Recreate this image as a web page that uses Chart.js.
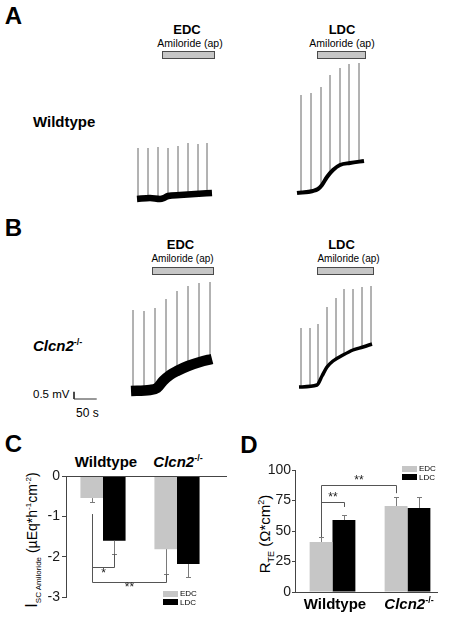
<!DOCTYPE html>
<html><head><meta charset="utf-8">
<script src="https://cdn.jsdelivr.net/npm/chart.js@4.4.1/dist/chart.umd.min.js"></script>
<style>
html,body{margin:0;padding:0;background:#fff;}
#fig{position:relative;width:450px;height:623px;overflow:hidden;font-family:"Liberation Sans",Arial,sans-serif;color:#000;}
canvas{position:absolute;}
.t{position:absolute;white-space:nowrap;line-height:1;}
.c{transform:translate(-50%,-50%);}
.l{transform:translateY(-50%);}
.pl{font-size:24px;font-weight:bold;}
.hd{font-size:13px;font-weight:bold;}
.am{font-size:10.5px;}
.gt{font-size:15px;font-weight:bold;}
.sp{font-size:9px;position:relative;top:-6px;font-style:normal;font-weight:bold;}
.amb{position:absolute;background:#c6c6c6;border:1px solid #4a4a4a;box-sizing:border-box;}
.lg{position:absolute;}
.lt{font-size:8px;}
</style></head><body>
<div id="fig">
  <!-- Panel A -->
  <div class="t c pl" style="left:13.5px;top:15.5px">A</div>
  <div class="t c hd" style="left:187px;top:28.5px">EDC</div>
  <div class="t c am" style="left:190px;top:43px">Amiloride (ap)</div>
  <div class="amb" style="left:162px;top:51px;width:53px;height:8px"></div>
  <div class="t c hd" style="left:342px;top:28.5px">LDC</div>
  <div class="t c am" style="left:342px;top:43px">Amiloride (ap)</div>
  <div class="amb" style="left:317px;top:51px;width:49px;height:8px"></div>
  <div class="t l gt" style="left:33px;top:121px">Wildtype</div>
  <canvas id="aEdc"></canvas>
  <canvas id="aLdc"></canvas>

  <!-- Panel B -->
  <div class="t c pl" style="left:13.5px;top:227.5px">B</div>
  <div class="t c hd" style="left:180.5px;top:244px">EDC</div>
  <div class="t c am" style="left:182.5px;top:259px;font-size:10px">Amiloride (ap)</div>
  <div class="amb" style="left:152px;top:267px;width:62px;height:8px"></div>
  <div class="t c hd" style="left:341.5px;top:244px">LDC</div>
  <div class="t c am" style="left:348.5px;top:259px;font-size:10px">Amiloride (ap)</div>
  <div class="amb" style="left:317px;top:267px;width:57px;height:8px"></div>
  <div class="t l gt" style="left:33px;top:345px"><i>Clcn2</i><span class="sp">-/-</span></div>
  <div class="t l" style="left:33px;top:395px;font-size:11.5px">0.5 mV</div>
  <div class="t l" style="left:76px;top:413px;font-size:12px">50 s</div>
  <canvas id="bEdc"></canvas>
  <canvas id="bLdc"></canvas>

  <!-- Panel C -->
  <div class="t c pl" style="left:13.5px;top:443.5px">C</div>
  <div class="t c gt" style="left:106px;top:461px">Wildtype</div>
  <div class="t c gt" style="left:178px;top:461px"><i>Clcn2</i><span class="sp">-/-</span></div>
  <div class="t" style="left:32px;top:540px;font-size:14px;transform:translate(-50%,-50%) rotate(-90deg)"><span style="font-size:16px">I</span><span style="font-size:8px;position:relative;top:4px">SC Amiloride</span> (µEq*h<span style="font-size:8px;position:relative;top:-6px">-1</span>cm<span style="font-size:8px;position:relative;top:-6px">-2</span>)</div>
  <canvas id="isc"></canvas>
  <div class="lg" style="left:163px;top:591px;width:15px;height:6px;background:#c6c6c6"></div>
  <div class="t l lt" style="left:180px;top:594px">EDC</div>
  <div class="lg" style="left:163px;top:599px;width:15px;height:6px;background:#000"></div>
  <div class="t l lt" style="left:180px;top:602.5px">LDC</div>

  <!-- Panel D -->
  <div class="t c pl" style="left:249px;top:445px">D</div>
  <div class="t" style="left:264px;top:534px;font-size:15px;transform:translate(-50%,-50%) rotate(-90deg)">R<span style="font-size:9px;position:relative;top:4px">TE</span> (Ω*cm<span style="font-size:9px;position:relative;top:-6px">2</span>)</div>
  <canvas id="rte"></canvas>
  <div class="lg" style="left:402px;top:466px;width:15px;height:6px;background:#c6c6c6"></div>
  <div class="t l lt" style="left:419px;top:469px">EDC</div>
  <div class="lg" style="left:402px;top:474px;width:15px;height:6px;background:#000"></div>
  <div class="t l lt" style="left:419px;top:477.5px">LDC</div>
  <div class="t c gt" style="left:335px;top:603px">Wildtype</div>
  <div class="t c gt" style="left:409px;top:603px"><i>Clcn2</i><span class="sp">-/-</span></div>
</div>
<script>
// ---------- Data: recordings (time in s, transepithelial voltage in mV) ----------
const aEdcTime = [0, 28.6, 50.6, 59.4, 68.2, 94.6, 127.6, 165];
const aEdcVolt = [0, 0.07, 0, 0.07, 0.21, 0.28, 0.35, 0.42];
const aEdcSpikeTime = [2.2, 24.2, 46.2, 68.2, 90.2, 112.2, 134.2, 154];
const aEdcSpikeBase = [0, 0.07, 0, 0.21, 0.28, 0.28, 0.35, 0.42];
const aEdcSpikeTop = [3.57, 3.57, 3.64, 3.57, 3.71, 3.92, 3.85, 3.92];

const aLdcTime = [0, 35.2, 46.2, 55, 66, 79.2, 94.6, 116.6, 147.4];
const aLdcVolt = [0, 0.14, 0.28, 0.56, 1.12, 1.61, 1.96, 2.1, 2.24];
const aLdcSpikeTime = [8.8, 30.8, 52.8, 72.6, 94.6, 114.4, 136.4];
const aLdcSpikeBase = [0, 0.14, 0.49, 1.4, 1.96, 2.1, 2.17];
const aLdcSpikeTop = [6.86, 7.0, 7.42, 8.26, 8.75, 9.03, 9.1];

const bEdcTime = [0, 41.8, 57.2, 70.4, 85.8, 101.2, 125.4, 151.8, 178.2];
const bEdcVolt = [0, 0.07, 0.21, 0.7, 1.12, 1.4, 1.75, 2.03, 2.24];
const bEdcSpikeTime = [4.4, 28.6, 52.8, 77, 101.2, 125.4, 149.6, 173.8];
const bEdcSpikeBase = [0, 0.07, 0.14, 0.84, 1.4, 1.75, 2.0, 2.2];
const bEdcSpikeTop = [5.67, 5.6, 5.81, 6.44, 7.0, 7.35, 7.56, 7.63];

const bLdcTime = [0, 39.6, 50.6, 61.6, 74.8, 96.8, 118.8, 140.8, 160.6];
const bLdcVolt = [0, 0.14, 0.77, 1.4, 1.82, 2.24, 2.59, 2.8, 3.01];
const bLdcSpikeTime = [4.4, 24.2, 41.8, 61.6, 81.4, 99, 118.8, 138.6, 158.4];
const bLdcSpikeBase = [0, 0.07, 0.28, 1.4, 1.96, 2.31, 2.59, 2.8, 3.01];
const bLdcSpikeTop = [4.13, 4.13, 4.41, 5.6, 6.23, 6.86, 6.86, 7.0, 7.07];

const scaleBarVolt = 0.5;   // mV
const scaleBarTime = 50;    // s

// ---------- Data: bar charts ----------
const groups = ['Wildtype', 'Clcn2-/-'];
const iscEdc = [-0.54, -1.81];
const iscEdcSem = [0.1, 0.63];
const iscLdc = [-1.6, -2.18];
const iscLdcSem = [0.33, 0.32];
const iscTicks = [0, -1, -2, -3];

const rteEdc = [41, 70.5];
const rteEdcSem = [4.1, 7.4];
const rteLdc = [59, 68.9];
const rteLdcSem = [4.1, 9];
const rteTicks = [0, 25, 50, 75, 100];

// significance brackets: a/b = [dataset, group]
const iscSig = [
  {a:[0,0], b:[1,0], aFrom:-0.94, bFrom:-1.93, level:-2.26, label:'*',  labelAt:-2.42},
  {a:[0,0], b:[0,1], aFrom:-0.94, bFrom:-2.44, level:-2.63, label:'**', labelAt:-2.78}
];
const rteSig = [
  {a:[0,0], b:[0,1], aFrom:45.1, bFrom:81,   level:87.7, label:'**', labelAt:91.0},
  {a:[0,0], b:[1,0], aFrom:45.1, bFrom:69.7, level:73.8, label:'**', labelAt:77.0}
];

// ---------- Layout ----------
const FONT = '"Liberation Sans", Arial, sans-serif';
const SEC_PER_PX = 2.2, MV_PER_PX = 0.07;
const GRAY = '#c6c6c6';

function placeCanvas(id, box) {
  const cv = document.getElementById(id);
  cv.width = box.w; cv.height = box.h;
  cv.style.left = box.left + 'px'; cv.style.top = box.top + 'px';
  cv.style.width = box.w + 'px'; cv.style.height = box.h + 'px';
  return cv;
}

function traceChart(id, box, origin, time, volt, spT, spB, spTop, lineW, extraSets) {
  const cv = placeCanvas(id, box);
  const spikes = [];
  spT.forEach((t, i) => { spikes.push({x:t, y:spB[i]}, {x:t, y:spTop[i]}, {x:t, y:null}); });
  const trace = time.map((t, i) => ({x:t, y:volt[i]}));
  const datasets = [
    {data: spikes, borderColor:'#666', borderWidth:1, pointRadius:0, tension:0, spanGaps:false, order:2},
    {data: trace, borderColor:'#000', borderWidth:lineW, pointRadius:0, cubicInterpolationMode:'monotone',
     borderJoinStyle:'round', borderCapStyle:'butt', order:1}
  ].concat(extraSets || []);
  return new Chart(cv, {
    type:'line',
    data:{datasets},
    options:{
      responsive:false, animation:false, devicePixelRatio:1, events:[],
      layout:{padding:0},
      plugins:{legend:{display:false}, tooltip:{enabled:false}},
      scales:{
        x:{type:'linear', display:false,
           min:(box.left - origin.x) * SEC_PER_PX, max:(box.left + box.w - origin.x) * SEC_PER_PX},
        y:{type:'linear', display:false,
           min:(origin.y - box.top - box.h) * MV_PER_PX, max:(origin.y - box.top) * MV_PER_PX}
      }
    }
  });
}

traceChart('aEdc', {left:125, top:130, w:95, h:80}, {x:137, y:199},
  aEdcTime, aEdcVolt, aEdcSpikeTime, aEdcSpikeBase, aEdcSpikeTop, 6.5);
traceChart('aLdc', {left:285, top:55, w:90, h:148}, {x:297, y:193},
  aLdcTime, aLdcVolt, aLdcSpikeTime, aLdcSpikeBase, aLdcSpikeTop, 4);

// scale bar anchored (corner) at pixel (74, 399) within B-EDC chart frame
const bEdcOrigin = {x:131, y:391};
const sbT0 = (74 - bEdcOrigin.x) * SEC_PER_PX, sbV0 = (bEdcOrigin.y - 399) * MV_PER_PX;
traceChart('bEdc', {left:60, top:275, w:160, h:130}, bEdcOrigin,
  bEdcTime, bEdcVolt, bEdcSpikeTime, bEdcSpikeBase, bEdcSpikeTop, 10.5,
  [{data:[{x:sbT0, y:sbV0 + scaleBarVolt}, {x:sbT0, y:sbV0}, {x:sbT0 + scaleBarTime, y:sbV0}],
    borderColor:'#333', borderWidth:1, pointRadius:0, tension:0, order:0}]);
traceChart('bLdc', {left:288, top:280, w:92, h:115}, {x:299, y:387},
  bLdcTime, bLdcVolt, bLdcSpikeTime, bLdcSpikeBase, bLdcSpikeTop, 3.5);

// ---------- Bar chart annotations plugin (error bars, axis line, brackets) ----------
const annot = {
  id:'annot',
  afterDatasetsDraw(chart, args, o) {
    const ctx = chart.ctx, ys = chart.scales.y, ca = chart.chartArea;
    ctx.save();
    ctx.strokeStyle = '#444'; ctx.lineWidth = 1;
    const y0 = Math.round(ys.getPixelForValue(0)) + 0.5;
    ctx.beginPath(); ctx.moveTo(ca.left, y0); ctx.lineTo(ca.right + o.axisExtend, y0); ctx.stroke();
    ctx.strokeStyle = '#7a7a7a';
    o.errors.forEach((errs, di) => {
      const meta = chart.getDatasetMeta(di), vals = chart.data.datasets[di].data;
      errs.forEach((e, j) => {
        const x = Math.round(meta.data[j].x) + 0.5;
        const v = vals[j], end = v < 0 ? v - e : v + e;
        const p1 = ys.getPixelForValue(v), p2 = Math.round(ys.getPixelForValue(end)) + 0.5;
        ctx.beginPath(); ctx.moveTo(x, p1); ctx.lineTo(x, p2);
        ctx.moveTo(x - 2.5, p2); ctx.lineTo(x + 2.5, p2); ctx.stroke();
      });
    });
    ctx.strokeStyle = '#555'; ctx.fillStyle = '#222';
    ctx.font = '12px ' + FONT; ctx.textAlign = 'center'; ctx.textBaseline = 'middle';
    o.sig.forEach(s => {
      const xa = Math.round(chart.getDatasetMeta(s.a[0]).data[s.a[1]].x) + 0.5;
      const xb = Math.round(chart.getDatasetMeta(s.b[0]).data[s.b[1]].x) + 0.5;
      const yl = Math.round(ys.getPixelForValue(s.level)) + 0.5;
      ctx.beginPath();
      ctx.moveTo(xa, ys.getPixelForValue(s.aFrom)); ctx.lineTo(xa, yl);
      ctx.lineTo(xb, yl); ctx.lineTo(xb, ys.getPixelForValue(s.bFrom));
      ctx.stroke();
      ctx.fillText(s.label, (xa + xb) / 2, ys.getPixelForValue(s.labelAt));
    });
    ctx.restore();
  }
};

function barChart(id, box, axisWidth, pad, edc, edcSem, ldc, ldcSem, ticks, sig, axisExtend, tickLen, tickPad, fontSize) {
  const cv = placeCanvas(id, box);
  return new Chart(cv, {
    type:'bar',
    data:{labels:groups, datasets:[
      {label:'EDC', data:edc, backgroundColor:GRAY, borderWidth:0, categoryPercentage:0.61, barPercentage:1},
      {label:'LDC', data:ldc, backgroundColor:'#000', borderWidth:0, categoryPercentage:0.61, barPercentage:1}
    ]},
    options:{
      responsive:false, animation:false, devicePixelRatio:1, events:[],
      layout:{padding:pad},
      plugins:{legend:{display:false}, tooltip:{enabled:false},
        annot:{errors:[edcSem, ldcSem], sig, axisExtend}},
      scales:{
        x:{display:false},
        y:{min:Math.min(...ticks), max:Math.max(...ticks),
           afterFit(s){ s.width = axisWidth; },
           afterBuildTicks(s){ s.ticks = ticks.slice().sort((a,b)=>a-b).map(v => ({value:v})); },
           border:{display:true, color:'#444', width:1},
           grid:{drawOnChartArea:false, drawTicks:true, tickLength:tickLen, color:'#444'},
           ticks:{color:'#1a1a1a', padding:tickPad, font:{family:FONT, size:fontSize}}}
      }
    },
    plugins:[annot]
  });
}

barChart('isc', {left:10, top:466, w:230, h:142}, 56, {top:10, bottom:11, left:0, right:26},
  iscEdc, iscEdcSem, iscLdc, iscLdcSem, iscTicks, iscSig, 13, 4, 2, 14);
barChart('rte', {left:230, top:455, w:220, h:150}, 65, {top:15, bottom:13, left:0, right:5},
  rteEdc, rteEdcSem, rteLdc, rteLdcSem, rteTicks, rteSig, -7, 3, 1, 14);
</script>
</body></html>
